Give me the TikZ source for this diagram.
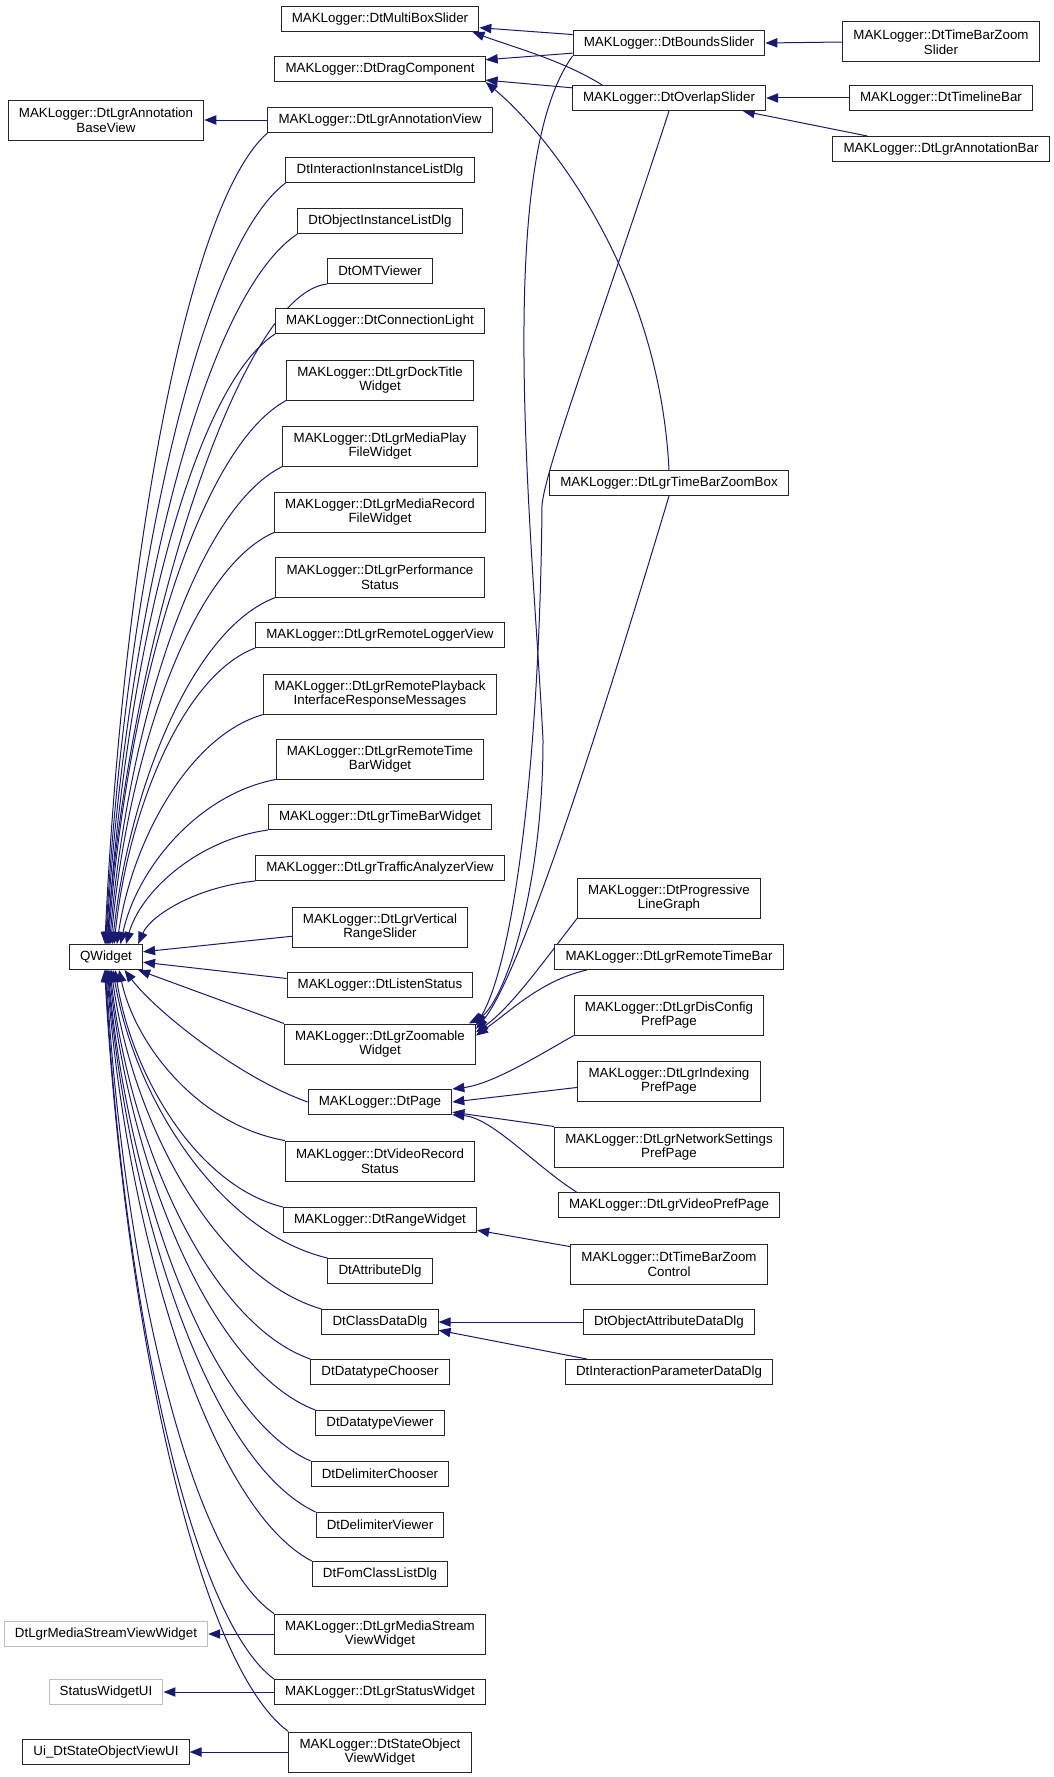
\documentclass[tikz,border=0pt]{standalone}
\usepackage{fontspec}
\setmainfont{Liberation Sans}
\usetikzlibrary{arrows.meta}
\definecolor{edgeblue}{RGB}{25,25,112}
\definecolor{extgray}{RGB}{191,191,191}
\pgfdeclarelayer{background}
\pgfsetlayers{background,main}
\begin{document}
\begin{tikzpicture}[x=0.75pt, y=0.75pt]
\tikzstyle{klass}  = [rectangle, draw=black!85, line width=0.75pt, fill=white, font=\fontsize{10}{11}\selectfont, align=center, inner xsep=8pt, inner ysep=2pt, minimum height=18.75pt]
\tikzstyle{klass2} = [klass, minimum height=30pt]
\tikzstyle{extern} = [klass, draw=extgray]
\tikzstyle{inh}    = [-{Triangle[length=9pt, width=7pt]}, line width=0.75pt, draw=edgeblue, fill=none]
\useasboundingbox (0,0) rectangle (1053,-1777);
\node[klass2] at (106, -120) (0_c_0) {MAKLogger::DtLgrAnnotation\\BaseView};
\node[klass] at (106, -957) (0_c_1) {QWidget};
\node[extern] at (106, -1634) (0_c_2) {DtLgrMediaStreamViewWidget};
\node[extern] at (106, -1692) (0_c_3) {StatusWidgetUI};
\node[klass] at (106, -1752) (0_c_4) {Ui\_DtStateObjectViewUI};
\node[klass] at (380, -19) (1_c_0) {MAKLogger::DtMultiBoxSlider};
\node[klass] at (380, -69) (1_c_1) {MAKLogger::DtDragComponent};
\node[klass] at (380, -120) (1_c_2) {MAKLogger::DtLgrAnnotationView};
\node[klass] at (380, -170) (1_c_3) {DtInteractionInstanceListDlg};
\node[klass] at (380, -221) (1_c_4) {DtObjectInstanceListDlg};
\node[klass] at (380, -271) (1_c_5) {DtOMTViewer};
\node[klass] at (380, -321) (1_c_6) {MAKLogger::DtConnectionLight};
\node[klass2] at (380, -380) (1_c_7) {MAKLogger::DtLgrDockTitle\\Widget};
\node[klass2] at (380, -446) (1_c_8) {MAKLogger::DtLgrMediaPlay\\FileWidget};
\node[klass2] at (380, -512) (1_c_9) {MAKLogger::DtLgrMediaRecord\\FileWidget};
\node[klass2] at (380, -577) (1_c_10) {MAKLogger::DtLgrPerformance\\Status};
\node[klass] at (380, -635) (1_c_11) {MAKLogger::DtLgrRemoteLoggerView};
\node[klass2] at (380, -694) (1_c_12) {MAKLogger::DtLgrRemotePlayback\\InterfaceResponseMessages};
\node[klass2] at (380, -759) (1_c_13) {MAKLogger::DtLgrRemoteTime\\BarWidget};
\node[klass] at (380, -817) (1_c_14) {MAKLogger::DtLgrTimeBarWidget};
\node[klass] at (380, -868) (1_c_15) {MAKLogger::DtLgrTrafficAnalyzerView};
\node[klass2] at (380, -927) (1_c_16) {MAKLogger::DtLgrVertical\\RangeSlider};
\node[klass] at (380, -985) (1_c_17) {MAKLogger::DtListenStatus};
\node[klass2] at (380, -1044) (1_c_18) {MAKLogger::DtLgrZoomable\\Widget};
\node[klass] at (380, -1102) (1_c_19) {MAKLogger::DtPage};
\node[klass2] at (380, -1161) (1_c_20) {MAKLogger::DtVideoRecord\\Status};
\node[klass] at (380, -1220) (1_c_21) {MAKLogger::DtRangeWidget};
\node[klass] at (380, -1271) (1_c_22) {DtAttributeDlg};
\node[klass] at (380, -1322) (1_c_23) {DtClassDataDlg};
\node[klass] at (380, -1372) (1_c_24) {DtDatatypeChooser};
\node[klass] at (380, -1423) (1_c_25) {DtDatatypeViewer};
\node[klass] at (380, -1474) (1_c_26) {DtDelimiterChooser};
\node[klass] at (380, -1525) (1_c_27) {DtDelimiterViewer};
\node[klass] at (380, -1574) (1_c_28) {DtFomClassListDlg};
\node[klass2] at (380, -1634) (1_c_29) {MAKLogger::DtLgrMediaStream\\ViewWidget};
\node[klass] at (380, -1692) (1_c_30) {MAKLogger::DtLgrStatusWidget};
\node[klass2] at (380, -1752) (1_c_31) {MAKLogger::DtStateObject\\ViewWidget};
\node[klass] at (669, -43) (2_c_0) {MAKLogger::DtBoundsSlider};
\node[klass] at (669, -98) (2_c_1) {MAKLogger::DtOverlapSlider};
\node[klass] at (669, -483) (2_c_2) {MAKLogger::DtLgrTimeBarZoomBox};
\node[klass2] at (669, -898) (2_c_3) {MAKLogger::DtProgressive\\LineGraph};
\node[klass] at (669, -957) (2_c_4) {MAKLogger::DtLgrRemoteTimeBar};
\node[klass2] at (669, -1015) (2_c_5) {MAKLogger::DtLgrDisConfig\\PrefPage};
\node[klass2] at (669, -1081) (2_c_6) {MAKLogger::DtLgrIndexing\\PrefPage};
\node[klass2] at (669, -1147) (2_c_7) {MAKLogger::DtLgrNetworkSettings\\PrefPage};
\node[klass] at (669, -1205) (2_c_8) {MAKLogger::DtLgrVideoPrefPage};
\node[klass2] at (669, -1264) (2_c_9) {MAKLogger::DtTimeBarZoom\\Control};
\node[klass] at (669, -1322) (2_c_10) {DtObjectAttributeDataDlg};
\node[klass] at (669, -1372) (2_c_11) {DtInteractionParameterDataDlg};
\node[klass2] at (941, -42) (3_c_0) {MAKLogger::DtTimeBarZoom\\Slider};
\node[klass] at (941, -98) (3_c_1) {MAKLogger::DtTimelineBar};
\node[klass] at (941, -149) (3_c_2) {MAKLogger::DtLgrAnnotationBar};
\begin{pgfonlayer}{background}
\draw[inh] (1_c_2.west) -- (0_c_0.east);
\draw[inh] (1_c_2.south west) .. controls +(-83,-73) and +(17,366) .. (0_c_1.95);
\draw[inh] (1_c_3.south west) .. controls +(-90,-69) and +(18,343) .. (0_c_1.92);
\draw[inh] (1_c_4.south west) .. controls +(-96,-64) and +(19,320) .. (0_c_1.89);
\draw[inh] (1_c_5.south west) .. controls +(-90,-10) and +(22,297) .. (0_c_1.86);
\draw[inh] (1_c_6.south west) .. controls +(-85,-55) and +(17,275) .. (0_c_1.83);
\draw[inh] (1_c_7.south west) .. controls +(-90,-49) and +(18,245) .. (0_c_1.80);
\draw[inh] (1_c_8.south west) .. controls +(-88,-43) and +(18,215) .. (0_c_1.75);
\draw[inh] (1_c_9.south west) .. controls +(-84,-37) and +(17,186) .. (0_c_1.70);
\draw[inh] (1_c_10.south west) .. controls +(-83,-31) and +(17,156) .. (0_c_1.64);
\draw[inh] (1_c_11.south west) .. controls +(-72,-27) and +(14,134) .. (0_c_1.58);
\draw[inh] (1_c_12.south west) .. controls +(-74,-21) and +(15,103) .. (0_c_1.50);
\draw[inh] (1_c_13.south west) .. controls +(-79,-15) and +(16,74) .. (0_c_1.42);
\draw[inh] (1_c_14.south west) .. controls +(-72,-10) and +(14,51) .. (0_c_1.33);
\draw[inh] (1_c_15.south west) .. controls +(-60,-6) and +(12,28) .. (0_c_1.22);
\draw[inh] (1_c_16.186) -- (0_c_1.8);
\draw[inh] (1_c_17.176) -- (0_c_1.-8);
\draw[inh] (1_c_18.north west) -- (0_c_1.-22);
\draw[inh] (1_c_19.west) .. controls +(-70,25) and +(30,-40) .. (0_c_1.-35);
\draw[inh] (1_c_20.north west) .. controls +(-85,15) and +(17,-77) .. (0_c_1.-45);
\draw[inh] (1_c_21.north west) .. controls +(-85,21) and +(17,-107) .. (0_c_1.-55);
\draw[inh] (1_c_22.north west) .. controls +(-108,26) and +(22,-130) .. (0_c_1.-62);
\draw[inh] (1_c_23.north west) .. controls +(-106,31) and +(21,-153) .. (0_c_1.-68);
\draw[inh] (1_c_24.north west) .. controls +(-100,35) and +(20,-176) .. (0_c_1.-73);
\draw[inh] (1_c_25.north west) .. controls +(-104,40) and +(21,-198) .. (0_c_1.-77);
\draw[inh] (1_c_26.north west) .. controls +(-101,44) and +(20,-221) .. (0_c_1.-81);
\draw[inh] (1_c_27.north west) .. controls +(-105,49) and +(21,-244) .. (0_c_1.-84);
\draw[inh] (1_c_28.north west) .. controls +(-102,53) and +(20,-266) .. (0_c_1.-87);
\draw[inh] (1_c_29.north west) .. controls +(-86,58) and +(17,-290) .. (0_c_1.-90);
\draw[inh] (1_c_30.north west) .. controls +(-86,64) and +(17,-319) .. (0_c_1.-93);
\draw[inh] (1_c_31.north west) .. controls +(-93,68) and +(19,-342) .. (0_c_1.-96);
\draw[inh] (1_c_29.west) -- (0_c_2.east);
\draw[inh] (1_c_30.west) -- (0_c_3.east);
\draw[inh] (1_c_31.west) -- (0_c_4.east);
\draw[inh] (2_c_0.175) -- (1_c_0.-5);
\draw[inh] (2_c_0.186) -- (1_c_1.5);
\draw[inh] (2_c_1.169) .. controls +(-40,25) and +(40,-15) .. (1_c_0.-8);
\draw[inh] (2_c_1.174) -- (1_c_1.-6);
\draw[inh] (2_c_2.north) .. controls +(-10,200) and +(60,-50) .. (1_c_1.south east);
\draw[inh] (2_c_0.south west) .. controls +(-80,-110) and +(-10,200) .. (543,-740) .. controls +(0,-150) and +(35,18) .. (1_c_18.13);
\draw[inh] (2_c_1.south) .. controls +(-65,-200) and +(4,40) .. (542,-505) .. controls +(-2,-240) and +(40,70) .. (1_c_18.11);
\draw[inh] (2_c_2.south) .. controls +(-45,-150) and +(50,60) .. (1_c_18.9);
\draw[inh] (2_c_3.south west) .. controls +(-35,-45) and +(35,25) .. (1_c_18.7);
\draw[inh] (2_c_4.-171) .. controls +(-45,-10) and +(35,25) .. (1_c_18.5);
\draw[inh] (2_c_5.south west) .. controls +(-35,-20) and +(40,5) .. (1_c_19.north east);
\draw[inh] (2_c_6.184) -- (1_c_19.east);
\draw[inh] (2_c_7.north west) -- (1_c_19.-8);
\draw[inh] (2_c_8.172) .. controls +(-40,25) and +(40,-3) .. (1_c_19.-10);
\draw[inh] (2_c_9.170) -- (1_c_21.-6);
\draw[inh] (2_c_10.west) -- (1_c_23.east);
\draw[inh] (2_c_11.171) -- (1_c_23.-8);
\draw[inh] (3_c_0.west) -- (2_c_0.east);
\draw[inh] (3_c_1.west) -- (2_c_1.east);
\draw[inh] (3_c_2.170) -- (2_c_1.-10);
\end{pgfonlayer}
\end{tikzpicture}
\end{document}
